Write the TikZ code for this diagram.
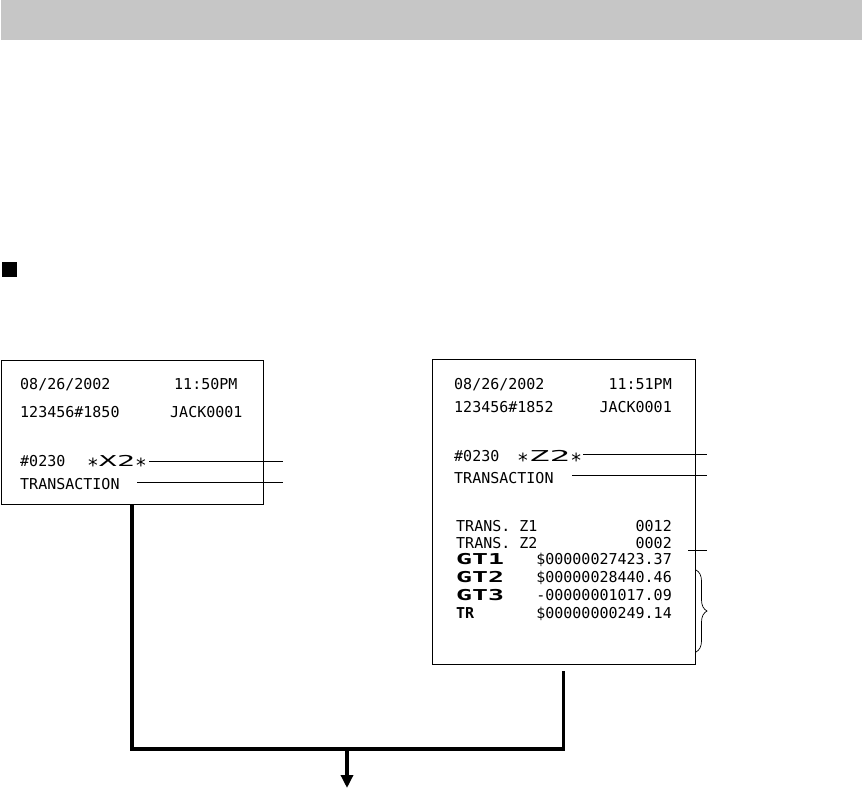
\documentclass[tikz,border=0pt]{standalone}
\usepackage{fontspec}
\usetikzlibrary{arrows.meta,decorations.pathreplacing}
\newfontfamily\rcpt{DejaVu Sans Mono}
\definecolor{bandgray}{HTML}{C6C6C6}
\tikzset{
  receipt/.style={draw=black,line width=0.9pt,fill=white,inner sep=0pt},
  rtxt/.style={inner sep=0pt,font=\rcpt\fontsize{15}{15}\selectfont},
  rl/.style={rtxt,anchor=base west},
  rr/.style={rtxt,anchor=base east},
  leader/.style={line width=0.8pt},
  conn/.style={line width=3.7pt,line join=miter},
}
\newcommand{\wideX}[2]{\scalebox{#1}[1]{#2}}
\newcommand{\rstar}{\raisebox{-6pt}{\scalebox{1.3}{*}}}
\begin{document}
\begin{tikzpicture}[x=1pt,y=-1pt]
\useasboundingbox (0,0) rectangle (862,790);
% header band
\fill[bandgray] (1,0) rectangle (862,40);
% bullet square
\fill[black] (2,262) rectangle (17,277);

% left receipt
\node[receipt,minimum width=262pt,minimum height=144pt] (L) at (132,432) {};
\node[rl] (l1) at (20,389) {08/26/2002};
\node[rl] (l2) at (174,389) {11:50PM};
\node[rl] (l3) at (20,417) {123456\#1850};
\node[rl] (l4) at (170,417) {JACK0001};
\node[rl] (l5) at (20,466) {\#0230};
\node[rl] (l6) at (87,466) {\rstar\wideX{2}{X2}\rstar};
\node[rl] (l7) at (20,489) {TRANSACTION};
\coordinate (la) at (283,461);
\coordinate (lb) at (283,482);
\draw[leader] (149,461) -- (la);
\draw[leader] (137,482) -- (lb);

% right receipt
\node[receipt,minimum width=263pt,minimum height=305pt] (R) at (563.5,511.5) {};
\node[rl] (r1) at (454,389) {08/26/2002};
\node[rr] (r2) at (672,389) {11:51PM};
\node[rl] (r3) at (454,412) {123456\#1852};
\node[rr] (r4) at (672,412) {JACK0001};
\node[rl] (r5) at (454,461) {\#0230};
\node[rl] (r6) at (517,461) {\rstar\wideX{2.3}{Z2}\rstar};
\node[rl] (r7) at (454,483) {TRANSACTION};
\node[rl] (r8) at (456,531) {TRANS. Z1};
\node[rr] (r9) at (672,531) {0012};
\node[rl] (r10) at (456,548) {TRANS. Z2};
\node[rr] (r11) at (672,548) {0002};
\node[rl] (g1) at (456,564) {\bfseries\wideX{1.77}{GT1}};
\node[rr] (v1) at (672,564) {\$00000027423.37};
\node[rl] (g2) at (456,582) {\bfseries\wideX{1.77}{GT2}};
\node[rr] (v2) at (672,582) {\$00000028440.46};
\node[rl] (g3) at (456,600) {\bfseries\wideX{1.77}{GT3}};
\node[rr] (v3) at (672,600) {-00000001017.09};
\node[rl] (g4) at (456,618) {\bfseries TR};
\node[rr] (v4) at (672,618) {\$00000000249.14};
\coordinate (ra) at (707,454);
\coordinate (rb) at (707,475);
\coordinate (rc) at (707,550);
\draw[leader] (583,454) -- (ra);
\draw[leader] (572,475) -- (rb);
\draw[leader] (688,550) -- (rc);
\draw[line width=0.7pt,decorate,decoration={brace,amplitude=11pt}] (696,570) -- (696,652);

% connectors
\coordinate (J) at (347,749);
\coordinate (E) at (347,788);
\draw[conn] (L.south) |- (J -| R.south) -- ([yshift=-7pt]R.south);
\draw[conn,-{Triangle[width=12pt,length=13pt]}] (J) -- (E);
\end{tikzpicture}
\end{document}
